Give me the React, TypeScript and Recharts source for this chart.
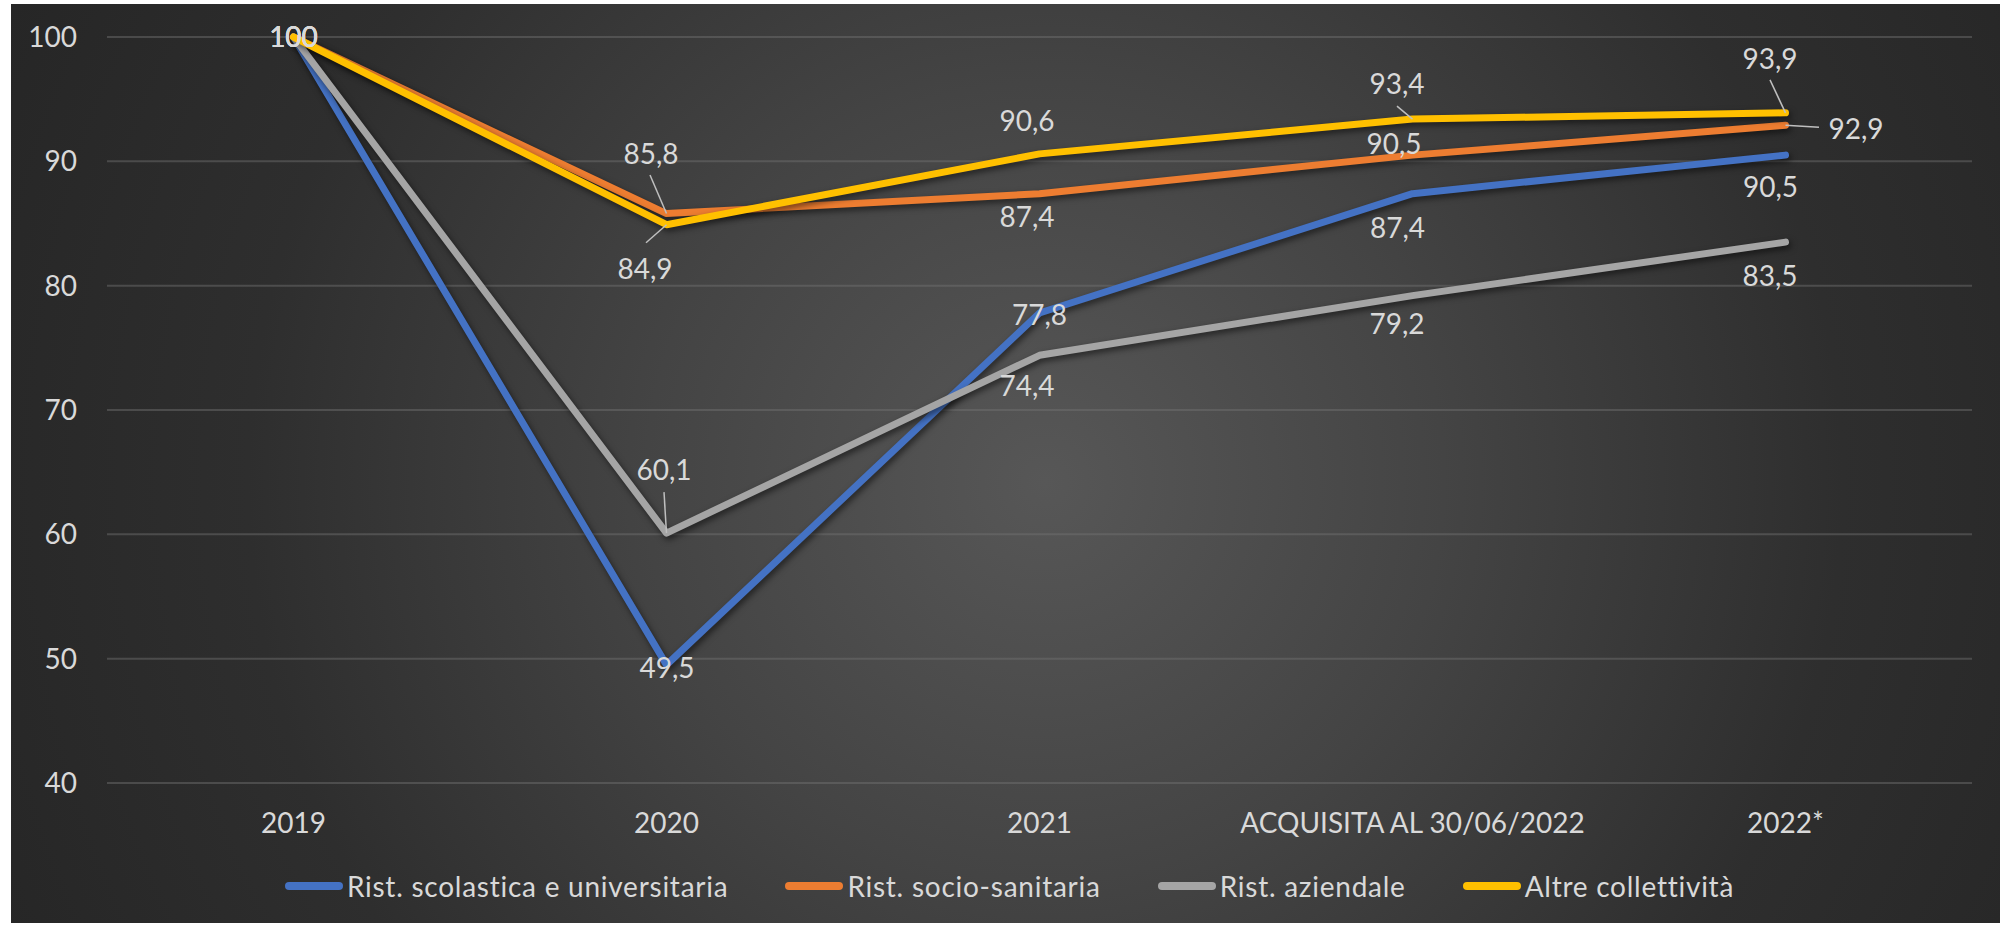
import React from 'react';
import { LineChart, Line, XAxis, YAxis, CartesianGrid, Legend, LabelList } from 'recharts';

const CATEGORIES = ['2019', '2020', '2021', 'ACQUISITA AL 30/06/2022', '2022*'];
const SCOLASTICA = [100, 49.5, 77.8, 87.4, 90.5];
const SOCIO_SANITARIA = [100, 85.8, 87.4, 90.5, 92.9];
const AZIENDALE = [100, 60.1, 74.4, 79.2, 83.5];
const ALTRE = [100, 84.9, 90.6, 93.4, 93.9];
const Y_TICKS = [40, 50, 60, 70, 80, 90, 100];

const SERIES = [
  { key: 'scol', name: 'Rist. scolastica e universitaria', values: SCOLASTICA, color: '#4472C4' },
  { key: 'socio', name: 'Rist. socio-sanitaria', values: SOCIO_SANITARIA, color: '#ED7D31' },
  { key: 'az', name: 'Rist. aziendale', values: AZIENDALE, color: '#A5A5A5' },
  { key: 'altre', name: 'Altre collettività', values: ALTRE, color: '#FFC000' },
];

// label placement (style): [dx, dy, leaderStartDx?, leaderStartDy?] relative to the point
const LABEL_PLACEMENT: Record<string, number[][]> = {
  scol: [[0, 0], [0.5, 3], [0, 2], [-15, 34], [-15, 32]],
  socio: [[0, 0], [-15.5, -59.5, -1, 21], [-12.5, 23.5], [-18.5, -11], [70.5, 4, -37, -2]],
  az: [[0, 0], [-2.5, -63, 0, 22], [-12.5, 31], [-15.5, 28.5], [-15.5, 34]],
  altre: [[0, 0], [-21.5, 44, 1, -26], [-12.5, -33], [-15.5, -35, 0, 22], [-15.5, -54, 0, 21]],
};

const rows = CATEGORIES.map((cat, i) => {
  const r: Record<string, string | number> = { cat };
  SERIES.forEach((s) => {
    r[s.key] = s.values[i];
  });
  return r;
});

const FONT = 'Lato, "Open Sans", sans-serif';
const TEXT = '#d9d9d9';
const FS = 28;

const fmt = (v: number) => (Number.isInteger(v) ? String(v) : v.toFixed(1).replace('.', ','));

const makeLabel = (key: string) => (props: any) => {
  const { x, y, value, index } = props;
  const p = LABEL_PLACEMENT[key][index] || [0, 0];
  const cx = x + p[0];
  const cy = y + p[1];
  return (
    <g>
      {p.length > 2 && (
        <line x1={cx + p[2]} y1={cy + p[3]} x2={x} y2={y} stroke="#bfbfbf" strokeWidth={1.5} />
      )}
      <text
        x={cx}
        y={cy + FS * 0.358}
        textAnchor="middle"
        fill={TEXT}
        fontSize={FS}
        fontFamily={FONT}
      >
        {fmt(Number(value))}
      </text>
    </g>
  );
};

const LegendContent = () => (
  <div
    style={{
      display: 'flex',
      justifyContent: 'center',
      alignItems: 'center',
      fontFamily: FONT,
      fontSize: FS,
      letterSpacing: 0.75,
      color: TEXT,
      lineHeight: '34px',
      paddingLeft: 8,
    }}
  >
    {SERIES.map((s, i) => (
      <div key={s.key} style={{ display: 'flex', alignItems: 'center', marginLeft: i === 0 ? 0 : 57 }}>
        <span
          style={{
            display: 'inline-block',
            width: 58,
            height: 8,
            borderRadius: 4,
            background: s.color,
            marginRight: 4,
          }}
        />
        <span>{s.name}</span>
      </div>
    ))}
  </div>
);

export default function App() {
  return (
    <div
      style={{
        position: 'absolute',
        left: 11,
        top: 4,
        width: 1989,
        height: 919,
        background:
          'radial-gradient(circle farthest-corner at 52% 52%, #575757 0%, #444444 35%, #2e2e2e 70%, #262626 100%)',
      }}
    >
      <style>{`.recharts-line-curve { filter: drop-shadow(2px 3px 3px rgba(0,0,0,0.55)); }`}</style>
      <LineChart width={1989} height={919} data={rows} margin={{ top: 33, right: 28, bottom: 80, left: 0 }}>
        <CartesianGrid horizontal vertical={false} stroke="#737373" strokeOpacity={0.45} strokeWidth={2} />
        <XAxis
          dataKey="cat"
          type="category"
          scale="point"
          padding={{ left: 186.5, right: 186.5 }}
          axisLine={false}
          tickLine={false}
          tickSize={0}
          tickMargin={30}
          height={60}
          interval={0}
          tick={{ fill: TEXT, fontSize: FS, fontFamily: FONT }}
        />
        <YAxis
          type="number"
          domain={[40, 100]}
          ticks={Y_TICKS}
          axisLine={false}
          tickLine={false}
          tickSize={0}
          tickMargin={30}
          width={96}
          tick={{ fill: TEXT, fontSize: FS, fontFamily: FONT }}
        />
        <Legend
          verticalAlign="middle"
          align="center"
          layout="horizontal"
          wrapperStyle={{ top: 865, left: 0, width: 1989 }}
          content={<LegendContent />}
        />
        {SERIES.map((s) => (
          <Line
            key={s.key}
            dataKey={s.key}
            name={s.name}
            stroke={s.color}
            strokeWidth={7}
            strokeLinecap="round"
            strokeLinejoin="round"
            dot={false}
            activeDot={false}
            isAnimationActive={false}
          >
            <LabelList dataKey={s.key} content={makeLabel(s.key)} />
          </Line>
        ))}
      </LineChart>
    </div>
  );
}
